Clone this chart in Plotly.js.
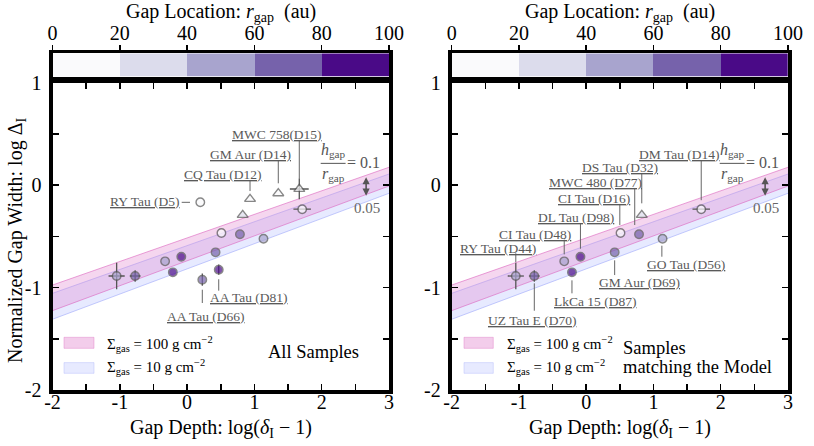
<!DOCTYPE html>
<html><head><meta charset="utf-8">
<script src="https://cdn.plot.ly/plotly-3.0.1.min.js"></script>
<style>html,body{margin:0;padding:0;background:#fff}#chart{width:814px;height:446px}</style>
</head><body><div id="chart"></div>
<script>
// ---------------- data ----------------
const sampleNames = ["RY Tau (D5)","CQ Tau (D12)","GM Aur (D14)","MWC 758(D15)","DM Tau (D14)","DS Tau (D32)","CI Tau (D16)","MWC 480 (D77)","GO Tau (D56)","GM Aur (D69)","DL Tau (D98)","CI Tau (D48)","LkCa 15 (D87)","AA Tau (D66)","AA Tau (D81)","RY Tau (D44)","UZ Tau E (D70)"];
const gapDepth  = [0.196, 0.935, 1.355, 1.667, 1.71, 0.826, 0.51, 0.785, 1.135, 0.423, -0.086, -0.327, -0.212, 0.226, 0.470, -1.047, -0.772];
const gapWidth  = [-0.169, -0.137, -0.081, -0.039, -0.236, -0.293, -0.468, -0.481, -0.524, -0.657, -0.70, -0.745, -0.852, -0.924, -0.826, -0.888, -0.888];
const gapRadius = [5, 12, 14, 15, 14, 32, 16, 77, 56, 69, 98, 48, 87, 66, 81, 44, 70];
const depthErr  = [0, 0, 0, 0.14, 0.13, 0, 0, 0, 0, 0, 0, 0, 0, 0, 0, 0.12, 0.08];
const widthErr  = [0, 0, 0, 0.10, 0, 0, 0, 0, 0, 0, 0, 0, 0, 0.06, 0.05, 0.13, 0.057];
const isLimit   = [0, 1, 1, 1, 0, 1, 0, 0, 0, 0, 0, 0, 0, 0, 0, 0, 0];
const matchesModel = [0, 0, 0, 0, 1, 1, 1, 1, 1, 1, 1, 1, 1, 0, 0, 1, 1];

const bandDepth = [-2, 3];
const sigma100Upper = [-0.976, 0.173];
const sigma100Lower = [-1.226, -0.010];
const sigma10Upper  = [-1.057, 0.107];
const sigma10Lower  = [-1.310, -0.081];

const rgapBins  = [10, 30, 50, 70, 90];
const rgapTicks = [0, 20, 40, 60, 80, 100];
const depthTickVals = [-2, -1, 0, 1, 2, 3];
const depthTickText = ["-2", "-1", "0", "1", "2", "3"];
const widthTickVals = [1, 0, -1, -2];
const widthTickText = ["1", "0", "-1", "-2"];

// ---------------- label placement (pixels: dx, dy (down +), connector x0,y0,x1,y1) ----------------
const leftLabels = {
  "RY Tau (D5)":   [-55, -0.5, -18.6, 0, -10.3, 0],
  "CQ Tau (D12)":  [-27.5, -25, 0, -19, 0, -8],
  "GM Aur (D14)":  [-28, -39.3, 0, -33.3, 0, -10],
  "MWC 758(D15)":  [-22, -54.7, 0, -48, 0, -10],
  "AA Tau (D81)":  [30, 27.6, 0, 9.6, 0, 21],
  "AA Tau (D66)":  [4, 36.3, 0, 10, 0, 23.3]
};
const rightLabels = {
  "DM Tau (D14)":   [-22, -55, 0, -49, 0, -9],
  "DS Tau (D32)":   [-22, -47.7, 0, -41, 0, -11.7],
  "MWC 480 (D77)":  [-43.5, -51.6, -4.3, -46, -4.3, -9.3],
  "CI Tau (D16)":   [-26.2, -34, -0.7, -29, -0.7, -8],
  "DL Tau (D98)":   [-4.9, -39, 0, -32.7, 0, -8],
  "CI Tau (D48)":   [-29, -27, 0, -21.7, 0, -7],
  "RY Tau (D44)":   [-17.3, -27.7, 0, -22.7, 0, -14],
  "GO Tau (D56)":   [23.7, 25.6, -0.7, 7, -0.7, 18],
  "GM Aur (D69)":   [25, 30.4, 0, 8, 0, 22.7],
  "LkCa 15 (D87)":  [22.9, 29.4, 0, 8, 0, 21],
  "UZ Tau E (D70)": [-2, 44, 0, 7.3, 0, 34.7]
};

const F = "Liberation Serif";
const purples = ["#fafafc", "#dcdcec", "#a8a4ce", "#7662ab", "#4a0a87"];
const cscale = [];
purples.forEach((c, i) => { cscale.push([i / 5, c]); cscale.push([(i + 1) / 5, c]); });

const traces = [];
const shapes = [];
const annotations = [];

function txt(o) { return Object.assign({showarrow: false, xanchor: 'center', yanchor: 'middle'}, o); }

function addPanel(xa, ya, xd, yd, idx, labels, paperX) {
  traces.push({x: bandDepth, y: sigma10Lower, xaxis: xa, yaxis: ya, mode: 'lines', line: {color: 'rgba(150,160,250,0.55)', width: 1}, showlegend: false, hoverinfo: 'skip'});
  traces.push({x: bandDepth, y: sigma10Upper, xaxis: xa, yaxis: ya, mode: 'lines', fill: 'tonexty', fillcolor: 'rgba(160,170,255,0.25)', line: {color: 'rgba(150,160,250,0.55)', width: 1}, showlegend: false, hoverinfo: 'skip'});
  traces.push({x: bandDepth, y: sigma100Lower, xaxis: xa, yaxis: ya, mode: 'lines', line: {color: 'rgba(220,100,190,0.6)', width: 1}, showlegend: false, hoverinfo: 'skip'});
  traces.push({x: bandDepth, y: sigma100Upper, xaxis: xa, yaxis: ya, mode: 'lines', fill: 'tonexty', fillcolor: 'rgba(225,130,205,0.33)', line: {color: 'rgba(220,100,190,0.6)', width: 1}, showlegend: false, hoverinfo: 'skip'});

  traces.push({
    x: idx.map(i => gapDepth[i]), y: idx.map(i => gapWidth[i]),
    xaxis: xa, yaxis: ya, mode: 'markers', showlegend: false,
    error_x: {type: 'data', array: idx.map(i => depthErr[i]), color: '#555', thickness: 1.3, width: 0, visible: true},
    error_y: {type: 'data', array: idx.map(i => widthErr[i]), color: '#555', thickness: 1.3, width: 0, visible: true},
    marker: {
      color: idx.map(i => gapRadius[i]), colorscale: cscale, cmin: 0, cmax: 100, showscale: false,
      symbol: idx.map(i => isLimit[i] ? 'triangle-up' : 'circle'),
      size: idx.map(i => isLimit[i] ? 9.5 : 8.5),
      line: {color: '#555', width: 1.4}
    }
  });

  idx.forEach(i => {
    const p = labels[sampleNames[i]];
    if (!p) return;
    annotations.push(txt({x: gapDepth[i], y: gapWidth[i], xref: xa, yref: ya, text: '<u>' + sampleNames[i] + '</u>',
      xshift: p[0], yshift: -p[1], font: {family: F, size: 13.5, color: '#5a5a5a'}}));
    shapes.push({type: 'line', xref: xa, yref: ya, xsizemode: 'pixel', ysizemode: 'pixel', xanchor: gapDepth[i], yanchor: gapWidth[i],
      x0: p[2], y0: -p[3], x1: p[4], y1: -p[5], line: {color: '#666', width: 1}});
  });

  // h/r annotation
  annotations.push(txt({xref: xd, yref: yd, x: 0.834, y: 0.778, text: '<i>h</i><sub>gap</sub>', font: {family: F, size: 16, color: '#555'}}));
  annotations.push(txt({xref: xd, yref: yd, x: 0.834, y: 0.700, text: '<i>r</i><sub>gap</sub>', font: {family: F, size: 16, color: '#555'}}));
  shapes.push({type: 'line', xref: xd, yref: yd, x0: 0.797, x1: 0.871, y0: 0.737, y1: 0.737, line: {color: '#555', width: 1}});
  annotations.push(txt({xref: xd, yref: yd, x: 0.923, y: 0.741, text: '= 0.1', font: {family: F, size: 16, color: '#555'}}));
  annotations.push({xref: xd, yref: yd, x: 0.932, y: 0.632, ax: 0, ay: -20, text: '', showarrow: true, arrowhead: 2, arrowside: 'end+start', arrowsize: 0.9, arrowwidth: 1.6, arrowcolor: '#555'});
  annotations.push(txt({xref: xd, yref: yd, x: 0.935, y: 0.591, text: '0.05', font: {family: F, size: 15, color: '#666'}}));

  // legend swatches
  const sx0 = paperX[0], sx1 = paperX[1], tx = paperX[2];
  shapes.push({type: 'rect', xref: 'paper', yref: 'paper', x0: sx0, x1: sx1, y0: 0.219, y1: 0.2437, fillcolor: 'rgba(225,130,205,0.4)', line: {color: 'rgba(220,100,190,0.35)', width: 1}});
  shapes.push({type: 'rect', xref: 'paper', yref: 'paper', x0: sx0, x1: sx1, y0: 0.163, y1: 0.187, fillcolor: 'rgba(160,170,255,0.25)', line: {color: 'rgba(150,160,250,0.3)', width: 1}});
  annotations.push(txt({xref: 'paper', yref: 'paper', x: tx, y: 0.2287, xanchor: 'left', text: 'Σ<sub>gas</sub> = 100 g cm<sup>−2</sup>', font: {family: F, size: 15, color: 'black'}}));
  annotations.push(txt({xref: 'paper', yref: 'paper', x: tx, y: 0.1778, xanchor: 'left', text: 'Σ<sub>gas</sub> = 10 g cm<sup>−2</sup>', font: {family: F, size: 15, color: 'black'}}));
}

const leftIdx = sampleNames.map((_, i) => i);
const rightIdx = sampleNames.map((_, i) => i).filter(i => matchesModel[i]);

addPanel('x', 'y', 'x domain', 'y domain', leftIdx, leftLabels, [0.0786, 0.1155, 0.129]);
addPanel('x2', 'y2', 'x2 domain', 'y2 domain', rightIdx, rightLabels, [0.570, 0.606, 0.6204]);

// colorbars
['x3', 'x4'].forEach((xa, k) => {
  traces.push({type: 'heatmap', x: rgapBins, y: [0.5], z: [rgapBins], xaxis: xa, yaxis: k ? 'y4' : 'y3',
    colorscale: cscale, zmin: 0, zmax: 100, showscale: false, hoverinfo: 'skip'});
});

// text
const gapTitle = 'Gap Location: <i>r</i><sub>gap</sub>\u00a0\u00a0(au)';
const xTitle = 'Gap Depth: log(<i>δ</i><sub>I</sub> − 1)';
annotations.push(txt({xref: 'paper', yref: 'paper', x: 220.7 / 814, y: 1 - 13 / 446, text: gapTitle, font: {family: F, size: 20, color: 'black'}}));
annotations.push(txt({xref: 'paper', yref: 'paper', x: 620 / 814, y: 1 - 13 / 446, text: gapTitle, font: {family: F, size: 20, color: 'black'}}));
annotations.push(txt({xref: 'paper', yref: 'paper', x: 220.7 / 814, y: 1 - 428 / 446, text: xTitle, font: {family: F, size: 20, color: 'black'}}));
annotations.push(txt({xref: 'paper', yref: 'paper', x: 620 / 814, y: 1 - 428 / 446, text: xTitle, font: {family: F, size: 20, color: 'black'}}));
annotations.push(txt({xref: 'paper', yref: 'paper', x: 16 / 814, y: 1 - 240 / 446, textangle: -90, text: 'Normalized Gap Width: log Δ<sub>I</sub>', font: {family: F, size: 20, color: 'black'}}));
annotations.push(txt({xref: 'paper', yref: 'paper', x: 313.8 / 814, y: 1 - 351.7 / 446, text: 'All Samples', font: {family: F, size: 18.5, color: 'black'}}));
annotations.push(txt({xref: 'paper', yref: 'paper', x: 620.7 / 814, xanchor: 'left', y: 1 - 348.3 / 446, text: 'Samples', font: {family: F, size: 18.5, color: 'black'}}));
annotations.push(txt({xref: 'paper', yref: 'paper', x: 620.7 / 814, xanchor: 'left', y: 1 - 366.7 / 446, text: 'matching the Model', font: {family: F, size: 18.5, color: 'black'}}));

const axisCommon = {showline: true, linewidth: 4, linecolor: 'black', mirror: 'allticks', ticks: 'inside', ticklen: 6, tickwidth: 1.5,
  tickcolor: 'black', showgrid: false, zeroline: false, automargin: false, fixedrange: true,
  tickfont: {family: F, size: 20, color: 'black'}};
const xMinor = {tickmode: 'array', tickvals: [-1.5, -0.5, 0.5, 1.5, 2.5], ticks: 'inside', ticklen: 6, tickwidth: 1.5, tickcolor: 'black'};
const yMinor = {tickmode: 'array', tickvals: [0.5, -0.5, -1.5], ticks: 'inside', ticklen: 6, tickwidth: 1.5, tickcolor: 'black'};
const mainY = [1 - 390 / 446, 1 - 82.5 / 446];
const cbY = [1 - 76.7 / 446, 1 - 53.3 / 446];
const xL = [52.5 / 814, 389 / 814];
const xR = [451.7 / 814, 788 / 814];

function xAx(dom, anchor) { return Object.assign({}, axisCommon, {domain: dom, anchor: anchor, range: [-2, 3], tickmode: 'array', tickvals: depthTickVals, ticktext: depthTickText, minor: xMinor, ticklabelstandoff: -9}); }
function yAx(anchor) { return Object.assign({}, axisCommon, {domain: mainY, anchor: anchor, range: [-2, 1], tickmode: 'array', tickvals: widthTickVals, ticktext: widthTickText, minor: yMinor, ticklabelstandoff: 3}); }
function cbX(dom, anchor) { return {domain: dom, anchor: anchor, range: [0, 100], side: 'top', showline: true, linewidth: 3.5, linecolor: 'black', mirror: true,
  ticks: 'outside', ticklen: 5, tickwidth: 1.5, tickcolor: 'black', tickmode: 'array', tickvals: rgapTicks, showgrid: false, zeroline: false,
  automargin: false, fixedrange: true, ticklabelstandoff: -3, tickfont: {family: F, size: 20, color: 'black'}}; }
function cbYax(anchor) { return {domain: cbY, anchor: anchor, range: [0, 1], showline: true, linewidth: 3.5, linecolor: 'black', mirror: true,
  ticks: '', showticklabels: false, showgrid: false, zeroline: false, automargin: false, fixedrange: true}; }

const layout = {
  width: 814, height: 446, margin: {l: 0, r: 0, t: 0, b: 0}, paper_bgcolor: 'white', plot_bgcolor: 'white',
  showlegend: false, hovermode: false,
  font: {family: F, color: 'black'},
  xaxis: xAx(xL, 'y'), yaxis: yAx('x'),
  xaxis2: xAx(xR, 'y2'), yaxis2: yAx('x2'),
  xaxis3: cbX(xL, 'y3'), yaxis3: cbYax('x3'),
  xaxis4: cbX(xR, 'y4'), yaxis4: cbYax('x4'),
  shapes: shapes, annotations: annotations
};

Plotly.newPlot('chart', traces, layout, {staticPlot: true, displayModeBar: false});
</script></body></html>
